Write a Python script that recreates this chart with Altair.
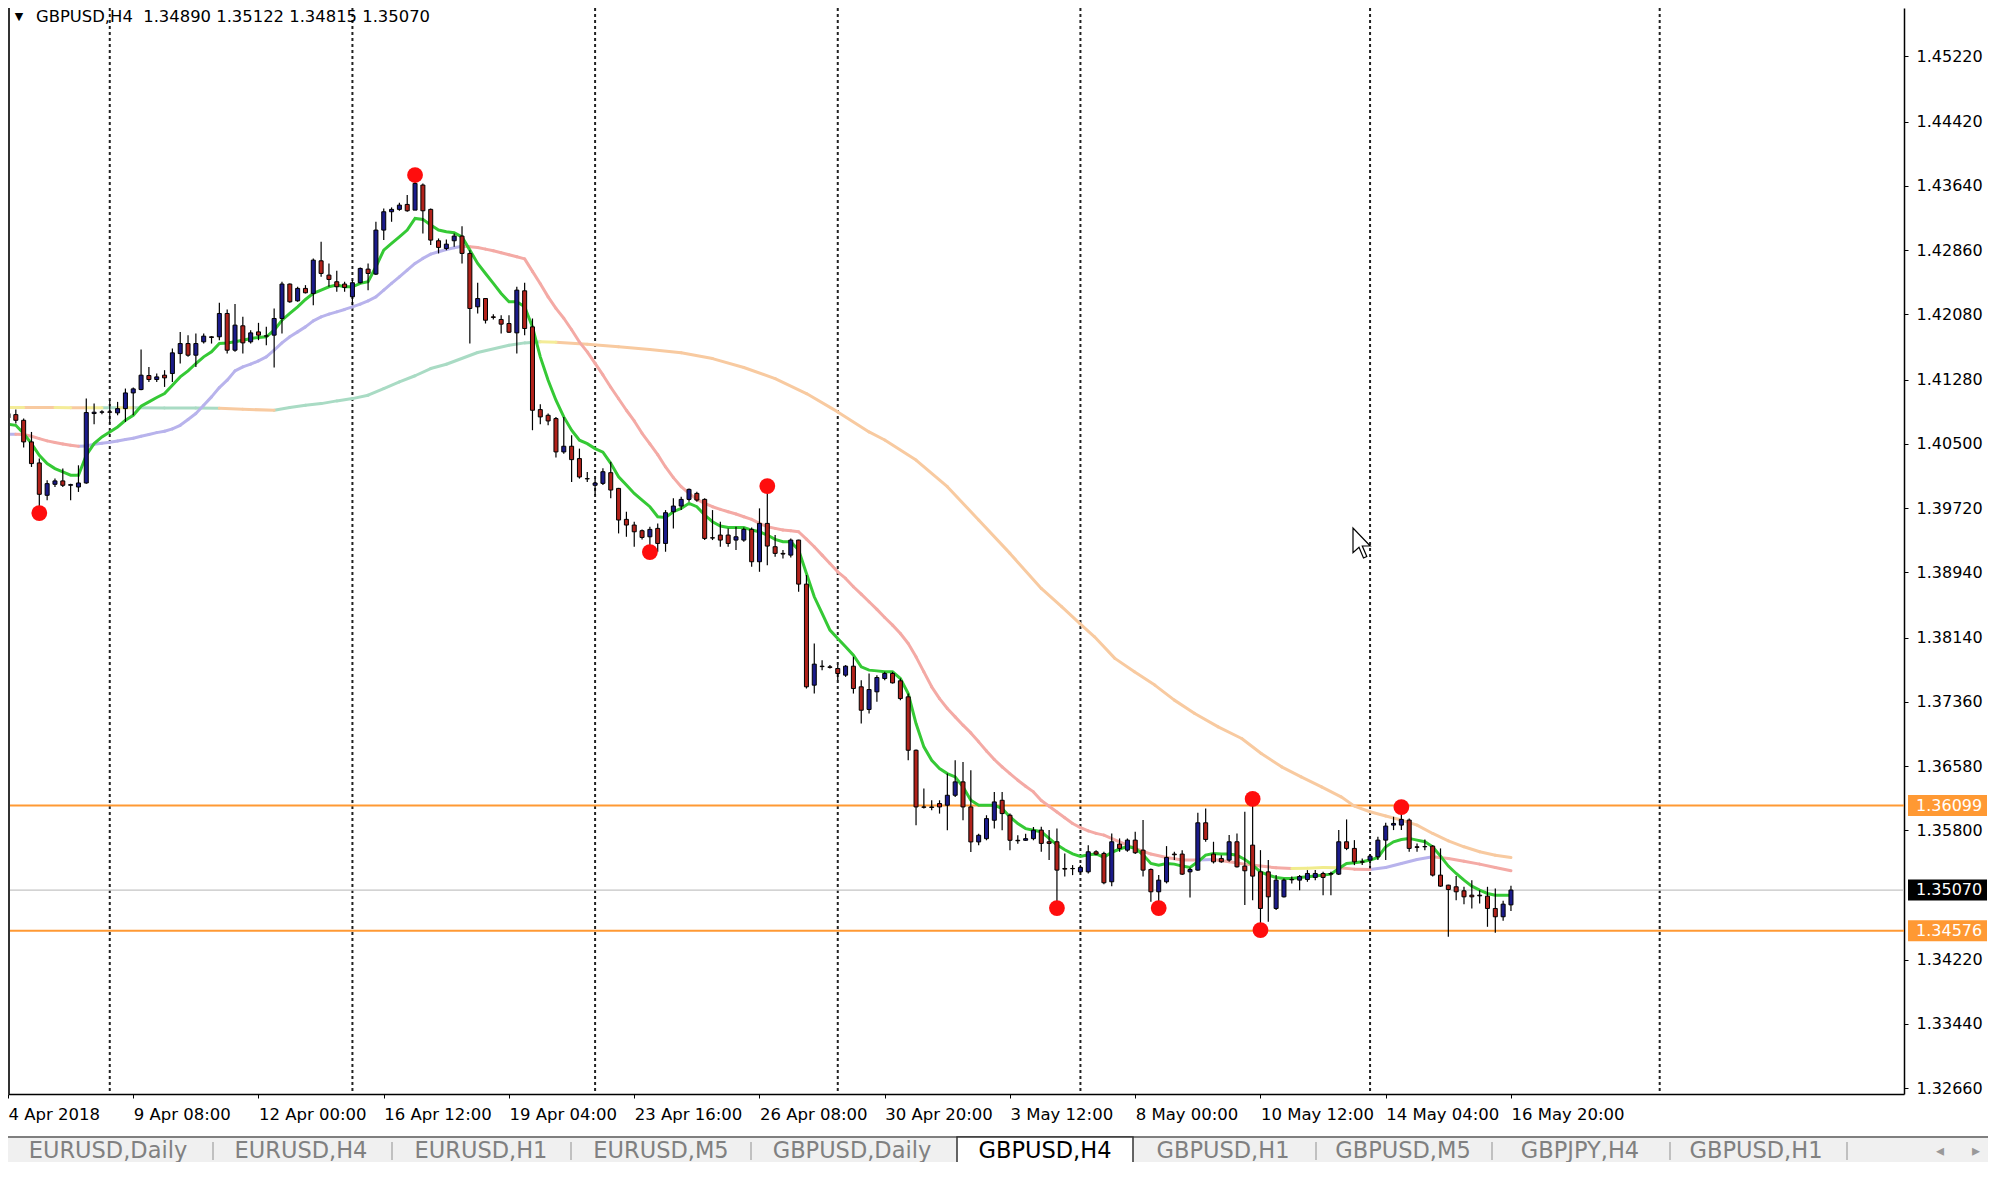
import json
import altair as alt
import pandas as pd

# ------------------------------------------------------------------ values
OPEN = [
    1.40817, 1.40857, 1.40788, 1.40525, 1.40269, 1.39875, 1.40009, 1.40050, 1.39997, 1.39976,
    1.40025, 1.40870, 1.40886, 1.40890, 1.40878, 1.40930, 1.41121, 1.41162, 1.41333, 1.41284,
    1.41337, 1.41357, 1.41600, 1.41722, 1.41580, 1.41743, 1.41804, 1.41804, 1.42088, 1.41641,
    1.41938, 1.41743, 1.41864, 1.41816, 1.41824, 1.42027, 1.42446, 1.42242, 1.42393, 1.42332,
    1.42729, 1.42555, 1.42474, 1.42446, 1.42291, 1.42462, 1.42628, 1.42567, 1.43103, 1.43326,
    1.43355, 1.43415, 1.43346, 1.43651, 1.43355, 1.42973, 1.42879, 1.42973, 1.43030, 1.42819,
    1.42169, 1.42270, 1.42047, 1.42015, 1.41966, 1.41852, 1.42364, 1.41925, 1.40918, 1.40849,
    1.40809, 1.40403, 1.40472, 1.40322, 1.40078, 1.39997, 1.40020, 1.40150, 1.39959, 1.39582,
    1.39513, 1.39444, 1.39370, 1.39472, 1.39289, 1.39675, 1.39744, 1.39825, 1.39898, 1.39825,
    1.39358, 1.39391, 1.39391, 1.39330, 1.39330, 1.39460, 1.39066, 1.39533, 1.39249, 1.39168,
    1.39147, 1.39330, 1.38794, 1.37564, 1.37795, 1.37787, 1.37767, 1.37686, 1.37795, 1.37544,
    1.37268, 1.37483, 1.37645, 1.37706, 1.37617, 1.37422, 1.36772, 1.36082, 1.36082, 1.36123,
    1.36103, 1.36224, 1.36387, 1.36082, 1.35656, 1.35696, 1.35920, 1.36163, 1.35981, 1.35676,
    1.35676, 1.35696, 1.35800, 1.35658, 1.35658, 1.35333, 1.35333, 1.35292, 1.35292, 1.35536,
    1.35516, 1.35171, 1.35629, 1.35556, 1.35678, 1.35556, 1.35321, 1.35049, 1.35171, 1.35508,
    1.35508, 1.35292, 1.35313, 1.35889, 1.35508, 1.35455, 1.35435, 1.35658, 1.35362, 1.35617,
    1.35292, 1.35292, 1.34846, 1.34988, 1.35199, 1.35191, 1.35199, 1.35224, 1.35272, 1.35272,
    1.35264, 1.35658, 1.35577, 1.35414, 1.35435, 1.35475, 1.35678, 1.35861, 1.35861, 1.35922,
    1.35597, 1.35597, 1.35605, 1.35252, 1.35130, 1.35110, 1.35061, 1.35008, 1.35008, 1.34996,
    1.34846, 1.34745, 1.34890,
]
HIGH = [
    1.40930, 1.40920, 1.40809, 1.40646, 1.40322, 1.40058, 1.40078, 1.40200, 1.40017, 1.40240,
    1.41052, 1.40991, 1.40910, 1.41032, 1.41012, 1.41174, 1.41186, 1.41649, 1.41438, 1.41357,
    1.41398, 1.41661, 1.41864, 1.41824, 1.41844, 1.41844, 1.41812, 1.42218, 1.42137, 1.42202,
    1.42047, 1.41885, 1.41974, 1.41925, 1.42149, 1.42474, 1.42454, 1.42413, 1.42433, 1.42758,
    1.42961, 1.42697, 1.42607, 1.42474, 1.42494, 1.42648, 1.42697, 1.43204, 1.43367, 1.43379,
    1.43436, 1.43529, 1.43773, 1.43671, 1.43367, 1.43001, 1.42989, 1.43062, 1.43151, 1.42859,
    1.42461, 1.42270, 1.42080, 1.42067, 1.42067, 1.42412, 1.42461, 1.42027, 1.40983, 1.40870,
    1.40829, 1.40829, 1.40606, 1.40443, 1.40159, 1.40078, 1.40203, 1.40284, 1.39965, 1.39675,
    1.39553, 1.39460, 1.39492, 1.39533, 1.39695, 1.39838, 1.39858, 1.39959, 1.39919, 1.39838,
    1.39695, 1.39553, 1.39472, 1.39492, 1.39484, 1.39484, 1.39716, 1.39980, 1.39391, 1.39208,
    1.39350, 1.39335, 1.38904, 1.38071, 1.37868, 1.37808, 1.37808, 1.37808, 1.37909, 1.37625,
    1.37706, 1.37686, 1.37726, 1.37726, 1.37645, 1.37462, 1.36780, 1.36305, 1.36163, 1.36163,
    1.36488, 1.36650, 1.36630, 1.36529, 1.35757, 1.35981, 1.36265, 1.36265, 1.36001, 1.35737,
    1.35757, 1.35838, 1.35841, 1.35800, 1.35820, 1.35516, 1.35374, 1.35374, 1.35617, 1.35556,
    1.35536, 1.35759, 1.35699, 1.35699, 1.35780, 1.35922, 1.35333, 1.35252, 1.35605, 1.35536,
    1.35556, 1.35345, 1.36011, 1.36064, 1.35658, 1.35495, 1.35739, 1.35759, 1.36023, 1.36186,
    1.35556, 1.35435, 1.35252, 1.35212, 1.35235, 1.35252, 1.35313, 1.35313, 1.35292, 1.35292,
    1.35800, 1.35930, 1.35678, 1.35455, 1.35508, 1.35719, 1.35889, 1.35962, 1.36084, 1.35942,
    1.35638, 1.35686, 1.35617, 1.35577, 1.35135, 1.35240, 1.35110, 1.35191, 1.35069, 1.35110,
    1.35090, 1.34939, 1.35122,
]
LOW = [
    1.40768, 1.40748, 1.40456, 1.40220, 1.39713, 1.39814, 1.39976, 1.39976, 1.39814, 1.39916,
    1.40017, 1.40740, 1.40861, 1.40748, 1.40849, 1.40768, 1.40849, 1.41154, 1.41255, 1.41255,
    1.41194, 1.41255, 1.41479, 1.41560, 1.41438, 1.41722, 1.41722, 1.41763, 1.41600, 1.41621,
    1.41600, 1.41722, 1.41763, 1.41702, 1.41430, 1.41844, 1.42218, 1.42230, 1.42332, 1.42189,
    1.42534, 1.42413, 1.42352, 1.42352, 1.42189, 1.42454, 1.42372, 1.42555, 1.42981, 1.43204,
    1.43338, 1.43326, 1.43346, 1.43062, 1.42920, 1.42819, 1.42859, 1.42900, 1.42697, 1.41722,
    1.42088, 1.41966, 1.42015, 1.41844, 1.41850, 1.41600, 1.41824, 1.40667, 1.40740, 1.40727,
    1.40334, 1.40382, 1.40037, 1.40078, 1.40037, 1.39875, 1.40000, 1.39838, 1.39411, 1.39370,
    1.39249, 1.39338, 1.39188, 1.39188, 1.39188, 1.39472, 1.39695, 1.39797, 1.39797, 1.39330,
    1.39330, 1.39249, 1.39249, 1.39208, 1.39310, 1.39005, 1.38944, 1.39025, 1.39127, 1.39107,
    1.39119, 1.38701, 1.37523, 1.37462, 1.37747, 1.37767, 1.37625, 1.37665, 1.37462, 1.37097,
    1.37219, 1.37361, 1.37625, 1.37584, 1.37381, 1.36650, 1.35859, 1.36062, 1.36041, 1.36001,
    1.35798, 1.36204, 1.35920, 1.35534, 1.35615, 1.35676, 1.35818, 1.35798, 1.35554, 1.35635,
    1.35670, 1.35676, 1.35536, 1.35435, 1.34846, 1.35235, 1.35252, 1.35272, 1.35272, 1.35495,
    1.35142, 1.35118, 1.35536, 1.35536, 1.35508, 1.35235, 1.34927, 1.34846, 1.35151, 1.35435,
    1.35252, 1.34980, 1.35305, 1.35658, 1.35394, 1.35402, 1.35414, 1.35345, 1.34887, 1.34947,
    1.34602, 1.34684, 1.34826, 1.34980, 1.35151, 1.35069, 1.35171, 1.35191, 1.35008, 1.35008,
    1.35252, 1.35556, 1.35374, 1.35374, 1.35333, 1.35435, 1.35435, 1.35800, 1.35800, 1.35536,
    1.35536, 1.35556, 1.35235, 1.35110, 1.34501, 1.34947, 1.34899, 1.34846, 1.34907, 1.34623,
    1.34550, 1.34696, 1.34815,
]
CLOSE = [
    1.40870, 1.40788, 1.40525, 1.40261, 1.39887, 1.40017, 1.40050, 1.39997, 1.40005, 1.40025,
    1.40882, 1.40886, 1.40890, 1.40886, 1.40930, 1.41121, 1.41170, 1.41337, 1.41284, 1.41316,
    1.41304, 1.41609, 1.41722, 1.41580, 1.41722, 1.41812, 1.41796, 1.42088, 1.41641, 1.41946,
    1.41730, 1.41852, 1.41824, 1.41812, 1.42027, 1.42446, 1.42230, 1.42393, 1.42340, 1.42737,
    1.42575, 1.42502, 1.42413, 1.42405, 1.42462, 1.42636, 1.42575, 1.43103, 1.43326, 1.43355,
    1.43407, 1.43338, 1.43671, 1.43338, 1.42981, 1.42892, 1.42932, 1.43030, 1.42819, 1.42149,
    1.42270, 1.42006, 1.42040, 1.41958, 1.41860, 1.42372, 1.41905, 1.40910, 1.40829, 1.40780,
    1.40403, 1.40472, 1.40309, 1.40098, 1.40075, 1.40025, 1.40162, 1.39939, 1.39574, 1.39513,
    1.39431, 1.39362, 1.39460, 1.39289, 1.39663, 1.39744, 1.39825, 1.39947, 1.39817, 1.39350,
    1.39355, 1.39330, 1.39289, 1.39370, 1.39460, 1.39066, 1.39533, 1.39257, 1.39168, 1.39160,
    1.39330, 1.38794, 1.37544, 1.37820, 1.37790, 1.37780, 1.37706, 1.37795, 1.37523, 1.37259,
    1.37511, 1.37657, 1.37706, 1.37592, 1.37401, 1.36772, 1.36082, 1.36078, 1.36075, 1.36082,
    1.36224, 1.36387, 1.36082, 1.35656, 1.35737, 1.35940, 1.36143, 1.36001, 1.35676, 1.35670,
    1.35696, 1.35798, 1.35638, 1.35638, 1.35313, 1.35325, 1.35330, 1.35345, 1.35536, 1.35508,
    1.35159, 1.35658, 1.35577, 1.35678, 1.35524, 1.35313, 1.35049, 1.35191, 1.35467, 1.35500,
    1.35264, 1.35321, 1.35889, 1.35686, 1.35414, 1.35414, 1.35658, 1.35353, 1.35305, 1.35240,
    1.34846, 1.34988, 1.35191, 1.35191, 1.35195, 1.35235, 1.35272, 1.35272, 1.35224, 1.35264,
    1.35658, 1.35577, 1.35414, 1.35410, 1.35483, 1.35678, 1.35849, 1.35881, 1.35930, 1.35577,
    1.35590, 1.35600, 1.35252, 1.35118, 1.35077, 1.35049, 1.34988, 1.34988, 1.35000, 1.34846,
    1.34745, 1.34899, 1.35070,
]

# fast moving average (green), one value per bar
MA_FAST = [
    1.40740, 1.40727, 1.40626, 1.40504, 1.40362, 1.40261, 1.40200, 1.40159, 1.40119, 1.40119,
    1.40362, 1.40504, 1.40585, 1.40646, 1.40707, 1.40788, 1.40849, 1.40959, 1.41012, 1.41065,
    1.41113, 1.41215, 1.41316, 1.41389, 1.41479, 1.41560, 1.41621, 1.41722, 1.41730, 1.41743,
    1.41763, 1.41783, 1.41795, 1.41804, 1.41885, 1.42006, 1.42088, 1.42169, 1.42258, 1.42332,
    1.42372, 1.42413, 1.42433, 1.42413, 1.42413, 1.42454, 1.42474, 1.42656, 1.42859, 1.42940,
    1.43021, 1.43103, 1.43245, 1.43233, 1.43164, 1.43103, 1.43082, 1.43070, 1.43021, 1.42859,
    1.42697, 1.42575, 1.42454, 1.42332, 1.42230, 1.42230, 1.42169, 1.41925, 1.41560, 1.41276,
    1.41032, 1.40829, 1.40667, 1.40545, 1.40504, 1.40443, 1.40400, 1.40264, 1.40101, 1.40000,
    1.39898, 1.39817, 1.39736, 1.39614, 1.39606, 1.39675, 1.39716, 1.39777, 1.39736, 1.39635,
    1.39553, 1.39501, 1.39484, 1.39484, 1.39484, 1.39452, 1.39431, 1.39391, 1.39338, 1.39310,
    1.39310, 1.39208, 1.38924, 1.38640, 1.38437, 1.38234, 1.38132, 1.38031, 1.37929, 1.37787,
    1.37747, 1.37738, 1.37726, 1.37726, 1.37645, 1.37462, 1.37097, 1.36813, 1.36650, 1.36549,
    1.36488, 1.36447, 1.36326, 1.36163, 1.36103, 1.36103, 1.36103, 1.36062, 1.35960, 1.35879,
    1.35818, 1.35798, 1.35780, 1.35700, 1.35620, 1.35560, 1.35510, 1.35480, 1.35500, 1.35510,
    1.35470, 1.35530, 1.35570, 1.35600, 1.35580, 1.35500, 1.35394, 1.35374, 1.35394, 1.35386,
    1.35362, 1.35345, 1.35414, 1.35495, 1.35516, 1.35508, 1.35508, 1.35495, 1.35443, 1.35374,
    1.35292, 1.35252, 1.35224, 1.35212, 1.35212, 1.35224, 1.35232, 1.35240, 1.35252, 1.35264,
    1.35333, 1.35394, 1.35402, 1.35414, 1.35435, 1.35467, 1.35597, 1.35658, 1.35686, 1.35699,
    1.35678, 1.35658, 1.35597, 1.35483, 1.35362, 1.35272, 1.35191, 1.35118, 1.35069, 1.35029,
    1.35008, 1.35008, 1.35008,
]

# medium moving average: u = rising (lavender), d = falling (pink), f = flat (yellow)
MA_MID_BAR = list(range(0, 140)) + list(range(140, 193, 2))
MA_MID_VAL = [
    1.40618, 1.40618, 1.40614, 1.40594, 1.40565, 1.40537, 1.40517, 1.40500, 1.40484, 1.40472,
    1.40476, 1.40496, 1.40508, 1.40521, 1.40537, 1.40553, 1.40569, 1.40594, 1.40614, 1.40638,
    1.40655, 1.40683, 1.40727, 1.40797, 1.40870, 1.40971, 1.41073, 1.41186, 1.41276, 1.41389,
    1.41438, 1.41471, 1.41511, 1.41560, 1.41641, 1.41730, 1.41804, 1.41864, 1.41925, 1.41998,
    1.42047, 1.42080, 1.42108, 1.42137, 1.42169, 1.42201, 1.42242, 1.42291, 1.42372, 1.42454,
    1.42534, 1.42615, 1.42697, 1.42758, 1.42810, 1.42839, 1.42867, 1.42887, 1.42905, 1.42900,
    1.42892, 1.42871, 1.42851, 1.42827, 1.42802, 1.42778, 1.42753, 1.42600, 1.42450, 1.42290,
    1.42150, 1.42030, 1.41890, 1.41740, 1.41620, 1.41480, 1.41340, 1.41190, 1.41050, 1.40910,
    1.40780, 1.40630, 1.40500, 1.40370, 1.40220, 1.40090, 1.39980, 1.39898, 1.39825, 1.39777,
    1.39736, 1.39704, 1.39675, 1.39647, 1.39614, 1.39582, 1.39533, 1.39492, 1.39472, 1.39452,
    1.39444, 1.39431, 1.39342, 1.39249, 1.39147, 1.39046, 1.38944, 1.38863, 1.38762, 1.38672,
    1.38579, 1.38486, 1.38388, 1.38295, 1.38193, 1.38071, 1.37909, 1.37726, 1.37544, 1.37401,
    1.37280, 1.37178, 1.37077, 1.36983, 1.36874, 1.36764, 1.36659, 1.36569, 1.36488, 1.36407,
    1.36334, 1.36265, 1.36160, 1.36090, 1.36020, 1.35950, 1.35880, 1.35830, 1.35790, 1.35760,
    1.35739, 1.35658, 1.35577, 1.35508, 1.35467, 1.35435, 1.35435, 1.35443, 1.35414, 1.35386,
    1.35362, 1.35341, 1.35333, 1.35337, 1.35345, 1.35341, 1.35325, 1.35321, 1.35345, 1.35394,
    1.35443, 1.35475, 1.35455, 1.35422, 1.35386, 1.35345, 1.35305,
]
MA_MID_DIR = list("uu" + "d" * 8 + "u" * 49 + "d" * 81 + "dddddddudddddfffdduuuuddddd")

# slow moving average: u = rising (mint), d = falling (peach), f = flat (yellow)
MA_SLOW_BAR = [0, 2, 4, 6, 8, 10, 12, 14, 16, 20, 24, 27, 30, 34, 36, 38, 40, 42, 44, 46, 48,
               50, 52, 54, 56, 60, 64, 66, 68, 70, 74, 78, 82, 86, 90, 94, 98, 102, 106, 110,
               112, 116, 120, 124, 128, 132, 134.6, 136.9, 138.8, 141.4, 143.9, 146.5, 149.0,
               151.6, 154.6, 157.6, 160.1, 162.7, 165.2, 167.8, 170.3, 172, 174, 176, 178, 180,
               182, 184, 186, 188, 190, 192]
MA_SLOW_VAL = [1.40943, 1.40943, 1.40943, 1.40943, 1.40940, 1.40940, 1.40940, 1.40940, 1.40940,
               1.40939, 1.40937, 1.40935, 1.40922, 1.40910,
               1.40943, 1.40971, 1.40991, 1.41024, 1.41052, 1.41093, 1.41174, 1.41255, 1.41330,
               1.41418, 1.41470,
               1.41613, 1.41702, 1.41730, 1.41743, 1.41739,
               1.41714, 1.41682, 1.41649, 1.41609, 1.41539, 1.41430, 1.41296,
               1.41113, 1.40890, 1.40646, 1.40548,
               1.40304, 1.39980, 1.39574, 1.39168, 1.38741, 1.38519, 1.38316, 1.38153,
               1.37890, 1.37727, 1.37565, 1.37382, 1.37220, 1.37057, 1.36915, 1.36732,
               1.36570, 1.36448, 1.36326, 1.36205, 1.36092, 1.36023, 1.35971, 1.35922, 1.35861,
               1.35759, 1.35670, 1.35597, 1.35536, 1.35495, 1.35467]
MA_SLOW_DIR = list("ufddfdfuf" + "uuudd" + "u" * 11 + "uuuuf" + "d" * 42)

# swing markers (red dots)
DOT_BAR = [4, 52, 82, 97, 134, 147, 159, 160, 178]
DOT_PRICE = [1.39658, 1.43773, 1.39184, 1.39987, 1.34851, 1.34851, 1.36180, 1.34583, 1.36080]

GRID_BAR = [13, 44, 75, 106, 137, 174, 211]
LEVELS = [1.36099, 1.34576]
BID = 1.35070

Y_TICKS = [1.45220, 1.44420, 1.43640, 1.42860, 1.42080, 1.41280, 1.40500, 1.39720, 1.38940,
           1.38140, 1.37360, 1.36580, 1.35800, 1.34220, 1.33440, 1.32660]
X_TICK_BAR = [0, 16, 32, 48, 64, 80, 96, 112, 128, 144, 160, 176, 192]
X_TICK_LABEL = ["4 Apr 2018", "9 Apr 08:00", "12 Apr 00:00", "16 Apr 12:00", "19 Apr 04:00",
                "23 Apr 16:00", "26 Apr 08:00", "30 Apr 20:00", "3 May 12:00", "8 May 00:00",
                "10 May 12:00", "14 May 04:00", "16 May 20:00"]

HEADER = "GBPUSD,H4\u00a0\u00a01.34890 1.35122 1.34815 1.35070"
TABS = ["EURUSD,Daily", "EURUSD,H4", "EURUSD,H1", "EURUSD,M5", "GBPUSD,Daily",
        "GBPUSD,H4", "GBPUSD,H1", "GBPUSD,M5", "GBPJPY,H4", "GBPUSD,H1"]
ACTIVE_TAB_INDEX = 5

# ------------------------------------------------------------------ layout / style
FONT = "DejaVu Sans"
W, H = 1896, 1086
PAD_RIGHT, PAD_BOTTOM = 86, 68
XDOM = [0.0, 242.21]
YDOM = [1.32588, 1.45806]

BULL = "#1B1B8A"
BEAR = "#B2221B"
GREEN = "#35C935"
MID_COL = {"u": "#B8B3EC", "d": "#F4AAA5", "f": "#F1EC8C"}
SLOW_COL = {"u": "#A9DBC4", "d": "#F8CAA0", "f": "#F4EC98"}
ORANGE = "#FF9933"

xs = alt.Scale(domain=XDOM, nice=False, zero=False, padding=0)
ys = alt.Scale(domain=YDOM, nice=False, zero=False, padding=0)

label_expr = f"{json.dumps(X_TICK_LABEL)}[indexof({json.dumps(X_TICK_BAR)}, datum.value)]"
xaxis = alt.Axis(values=X_TICK_BAR, labelExpr=label_expr, title=None, grid=False,
                 labelAlign="left", labelBaseline="top", labelFont=FONT, labelFontSize=16.5,
                 labelColor="black", labelPadding=8, tickSize=4,
                 tickColor="black", domainColor="black", domainWidth=1.5, labelOverlap=False,
                 labelFlush=False, labelBound=False)
yaxis = alt.Axis(orient="right", values=Y_TICKS, format=".5f", title=None, grid=False,
                 labelAlign="left", labelBaseline="middle", labelFont=FONT, labelFontSize=16,
                 labelColor="black", labelPadding=8, tickSize=4, tickColor="black",
                 domainColor="black", domainWidth=1.5, labelOverlap=False, labelFlush=False,
                 labelBound=False)


def X(f):
    return alt.X(f, type="quantitative", scale=xs, axis=xaxis)


def Y(f):
    return alt.Y(f, type="quantitative", scale=ys, axis=yaxis)


candles = pd.DataFrame({"bar": list(range(len(OPEN))), "open": OPEN, "high": HIGH,
                        "low": LOW, "close": CLOSE})
fast = pd.DataFrame({"bar": list(range(len(MA_FAST))), "v": MA_FAST})


def segments(bars, vals, dirs):
    rows = []
    for k in range(len(bars) - 1):
        rows.append({"bar": bars[k], "bar2": bars[k + 1], "v": vals[k], "v2": vals[k + 1],
                     "d": dirs[k + 1]})
    return pd.DataFrame(rows)


mid = segments(MA_MID_BAR, MA_MID_VAL, MA_MID_DIR)
slow = segments(MA_SLOW_BAR, MA_SLOW_VAL, MA_SLOW_DIR)

layers = []

# ---- bottom tab bar (decoration outside the plot)
one = pd.DataFrame({"a": [0]})
TAB_TOP, TAB_BOTTOM, TAB_TEXT_Y = 1130, 1154, 1143
layers.append(alt.Chart(one).mark_rect(color="#F0F0F0").encode(
    x=alt.value(0), x2=alt.value(1980), y=alt.value(TAB_TOP), y2=alt.value(TAB_BOTTOM)))
layers.append(alt.Chart(one).mark_rule(color="#555555", strokeWidth=1.5).encode(
    x=alt.value(0), x2=alt.value(1980), y=alt.value(TAB_TOP - 1)))
tab_centers = [100, 293, 473, 653, 844, 1037, 1215, 1395, 1572, 1748]
tab_df = pd.DataFrame({"label": TABS, "px": tab_centers,
                       "active": [k == ACTIVE_TAB_INDEX for k in range(len(TABS))]})
layers.append(alt.Chart(one).mark_rect(fill="white", stroke="#333333", strokeWidth=1.5).encode(
    x=alt.value(949), x2=alt.value(1125), y=alt.value(TAB_TOP - 1), y2=alt.value(TAB_BOTTOM + 4)))
sep_df = pd.DataFrame({"px": [205, 384, 563, 743, 1308, 1484, 1662, 1839]})
layers.append(alt.Chart(sep_df).mark_rule(color="#A0A0A0", strokeWidth=1.2).encode(
    x=alt.X("px:Q", scale=None), y=alt.value(TAB_TOP + 4), y2=alt.value(TAB_BOTTOM - 2)))
layers.append(alt.Chart(tab_df).transform_filter("!datum.active").mark_text(
    font=FONT, fontSize=22.5, color="#808080", baseline="middle").encode(
    x=alt.X("px:Q", scale=None), y=alt.value(TAB_TEXT_Y), text="label:N"))
layers.append(alt.Chart(tab_df).transform_filter("datum.active").mark_text(
    font=FONT, fontSize=22.5, color="black", baseline="middle").encode(
    x=alt.X("px:Q", scale=None), y=alt.value(TAB_TEXT_Y), text="label:N"))
arrow_df = pd.DataFrame({"t": ["\u25c2", "\u25b8"], "px": [1932, 1968]})
layers.append(alt.Chart(arrow_df).mark_text(font=FONT, fontSize=16, color="#999999",
                                            baseline="middle").encode(
    x=alt.X("px:Q", scale=None), y=alt.value(TAB_TEXT_Y), text="t:N"))

# ---- grid separators
layers.append(alt.Chart(pd.DataFrame({"bar": GRID_BAR})).mark_rule(
    color="#222222", strokeWidth=2, strokeDash=[3, 3]).encode(x=X("bar")))

# ---- horizontal levels
layers.append(alt.Chart(pd.DataFrame({"price": [BID]})).mark_rule(
    color="#C4C4C4", strokeWidth=1.2).encode(y=Y("price")))
layers.append(alt.Chart(pd.DataFrame({"price": LEVELS})).mark_rule(
    color=ORANGE, strokeWidth=2).encode(y=Y("price")))

# ---- moving averages
for df, cols in ((slow, SLOW_COL), (mid, MID_COL)):
    for key, col in cols.items():
        layers.append(alt.Chart(df).transform_filter(alt.datum.d == key).mark_rule(
            color=col, strokeWidth=3, strokeCap="round", clip=True).encode(
            x=X("bar"), x2="bar2", y=Y("v"), y2="v2"))

layers.append(alt.Chart(fast).mark_line(color=GREEN, strokeWidth=3, clip=True).encode(
    x=X("bar"), y=Y("v"), order="bar:Q"))

# ---- candles
layers.append(alt.Chart(candles).mark_rule(color="black", strokeWidth=1.2, clip=True).encode(
    x=X("bar"), y=Y("low"), y2="high"))
layers.append(alt.Chart(candles).transform_filter("datum.close >= datum.open").mark_bar(
    size=4, fill=BULL, stroke="black", strokeWidth=1, clip=True).encode(
    x=X("bar"), y=Y("open"), y2="close"))
layers.append(alt.Chart(candles).transform_filter("datum.close < datum.open").mark_bar(
    size=4, fill=BEAR, stroke="black", strokeWidth=1, clip=True).encode(
    x=X("bar"), y=Y("open"), y2="close"))

# ---- swing dots
layers.append(alt.Chart(pd.DataFrame({"bar": DOT_BAR, "price": DOT_PRICE})).mark_circle(
    color="#FF0D0D", opacity=1, size=250).encode(x=X("bar"), y=Y("price")))

# ---- left border
layers.append(alt.Chart(one).mark_rule(color="#333333", strokeWidth=2).encode(
    x=alt.value(1), y=alt.value(0), y2=alt.value(H)))

# ---- header
layers.append(alt.Chart(pd.DataFrame({"t": ["\u25bc"]})).mark_text(
    font=FONT, fontSize=11, color="black", baseline="middle", align="center").encode(
    x=alt.value(11), y=alt.value(9), text="t:N"))
layers.append(alt.Chart(pd.DataFrame({"t": [HEADER]})).mark_text(
    font=FONT, fontSize=16.4, color="black", baseline="middle", align="left").encode(
    x=alt.value(28), y=alt.value(9), text="t:N"))

# ---- price boxes on the right axis
BOX = "M-1,-0.266H1V0.266H-1Z"
boxes = pd.DataFrame({"price": [LEVELS[0], BID, LEVELS[1]],
                      "label": [f"{LEVELS[0]:.5f}", f"{BID:.5f}", f"{LEVELS[1]:.5f}"],
                      "fill": [ORANGE, "#000000", ORANGE]})
layers.append(alt.Chart(boxes).mark_point(shape=BOX, filled=True, opacity=1, size=79 * 79,
                                          strokeWidth=0).encode(
    y=Y("price"), x=alt.value(1939.5), color=alt.Color("fill:N", scale=None)))
layers.append(alt.Chart(boxes).mark_text(font=FONT, fontSize=16, color="white",
                                         align="left", baseline="middle").encode(
    y=Y("price"), x=alt.value(1908), text="label:N"))

# ---- mouse pointer seen in the screenshot
CURSOR = "M-1,-1L-1,0.65L-0.6,0.28L-0.3,1L-0.08,0.9L-0.38,0.2L0.15,0.2Z"
layers.append(alt.Chart(one).mark_point(shape=CURSOR, filled=True, fill="white", opacity=1,
                                        stroke="black", strokeWidth=1.2, size=900).encode(
    x=alt.value(1360), y=alt.value(535)))

chart = alt.layer(*layers).properties(
    width=W, height=H, background="white",
    autosize=alt.AutoSizeParams(type="none"),
    padding={"left": 0, "top": 0, "right": PAD_RIGHT, "bottom": PAD_BOTTOM},
)
chart = chart.configure_view(stroke=None).configure_text(font=FONT)

chart.save("out.html", embed_options={"renderer": "svg", "actions": False})
